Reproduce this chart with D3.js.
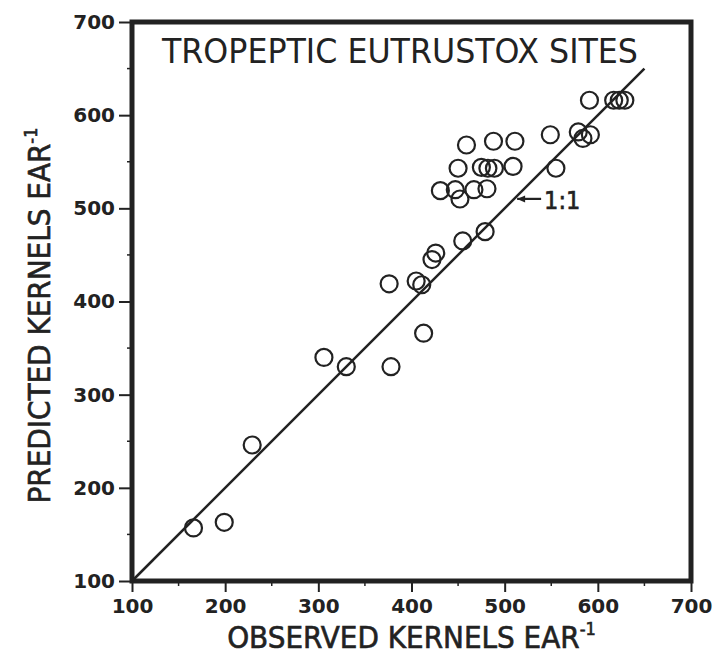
<!DOCTYPE html>
<html lang="en">
<head>
<meta charset="UTF-8">
<title>Predicted vs observed kernels</title>
<style>
  body { margin: 0; background: #fff; }
</style>
</head>
<body>
<svg id="chart" width="718" height="657"></svg>
<script src="https://d3js.org/d3.v7.min.js"></script>
<script>
// kernels per ear, one entry per site
const observed  = [166, 199, 229, 306, 330, 378, 413, 376, 405, 411,
                   422, 426, 455, 479, 431, 447, 452, 467, 481, 450,
                   475, 482, 489, 509, 459, 488, 511, 549, 555, 579,
                   584, 592, 591, 617, 623, 629];
const predicted = [157, 163, 246, 340, 330, 330, 366, 419, 422, 418,
                   445, 452, 465, 475, 519, 520, 510, 520, 521, 543,
                   544, 543, 543, 545, 568, 572, 572, 579, 543, 582,
                   575, 579, 616, 616, 616, 616];
const majorTicks = [100, 200, 300, 400, 500, 600, 700];
const minorTicks = [150, 250, 350, 450, 550, 650];
const oneToOne = [100, 650];
const labelAt = 508;

const svg = d3.select("#chart");
const plotLeft = 132, plotRight = 691, plotTop = 22, plotBottom = 581;
const ink = "#222";

const x = d3.scaleLinear().domain([100, 700]).range([plotLeft, plotRight]);
const y = d3.scaleLinear().domain([100, 700]).range([plotBottom, plotTop]);

// axes (ticks + labels)
const xAxis = svg.append("g")
    .attr("transform", `translate(0,${plotBottom})`)
    .call(d3.axisBottom(x).tickValues(majorTicks).tickSize(11).tickPadding(7));
const yAxis = svg.append("g")
    .attr("transform", `translate(${plotLeft},0)`)
    .call(d3.axisLeft(y).tickValues(majorTicks).tickSize(13).tickPadding(4));

[xAxis, yAxis].forEach(g => {
  g.select(".domain").remove();
  g.selectAll("line").attr("stroke", ink).attr("stroke-width", 2);
  g.selectAll("text")
    .attr("fill", ink)
    .style("font-family", "'DejaVu Sans', sans-serif")
    .style("font-weight", "bold")
    .style("font-size", "20px");
});

// minor ticks
svg.append("g").selectAll("line").data(minorTicks).join("line")
    .attr("x1", d => x(d)).attr("x2", d => x(d))
    .attr("y1", plotBottom).attr("y2", plotBottom + 5)
    .attr("stroke", ink).attr("stroke-width", 1.5);
svg.append("g").selectAll("line").data(minorTicks).join("line")
    .attr("y1", d => y(d)).attr("y2", d => y(d))
    .attr("x1", plotLeft).attr("x2", plotLeft - 5)
    .attr("stroke", ink).attr("stroke-width", 1.5);

// frame
svg.append("rect")
    .attr("x", plotLeft).attr("y", plotTop)
    .attr("width", plotRight - plotLeft).attr("height", plotBottom - plotTop)
    .attr("fill", "none").attr("stroke", ink).attr("stroke-width", 5);

// 1:1 line
svg.append("line")
    .attr("x1", x(oneToOne[0])).attr("y1", y(oneToOne[0]))
    .attr("x2", x(oneToOne[1])).attr("y2", y(oneToOne[1]))
    .attr("stroke", ink).attr("stroke-width", 2.5);

// points
svg.append("g").selectAll("circle")
    .data(observed.map((o, i) => [o, predicted[i]]))
    .join("circle")
    .attr("cx", d => x(d[0]))
    .attr("cy", d => y(d[1]))
    .attr("r", 8.5)
    .attr("fill", "none")
    .attr("stroke", ink)
    .attr("stroke-width", 2.2);

// 1:1 label with arrow
const ax = x(labelAt) + 5, ay = y(labelAt) - 2;
svg.append("line")
    .attr("x1", ax).attr("y1", ay).attr("x2", ax + 24).attr("y2", ay)
    .attr("stroke", ink).attr("stroke-width", 2.2);
svg.append("path")
    .attr("d", `M${ax},${ay} l8,-3.5 l0,7 z`)
    .attr("fill", ink);
svg.append("text")
    .attr("x", ax + 27).attr("y", ay + 10)
    .attr("fill", ink)
    .attr("stroke", ink).attr("stroke-width", 0.6)
    .style("font-family", "'DejaVu Sans Condensed', sans-serif")
    .style("font-size", "25px")
    .text("1:1");

// title inside the frame
svg.append("text")
    .attr("x", 162).attr("y", 63)
    .attr("textLength", 476).attr("lengthAdjust", "spacingAndGlyphs")
    .attr("fill", ink)
    .style("font-family", "'DejaVu Sans Condensed', sans-serif")
    .style("font-size", "33px")
    .text("TROPEPTIC EUTRUSTOX SITES");

// axis titles
const xt = svg.append("text")
    .attr("x", (plotLeft + plotRight) / 2).attr("y", 648)
    .attr("text-anchor", "middle")
    .attr("fill", ink)
    .attr("stroke", ink).attr("stroke-width", 0.6)
    .style("font-family", "'DejaVu Sans Condensed', sans-serif")
    .style("font-size", "31px");
xt.append("tspan").text("OBSERVED KERNELS EAR");
xt.append("tspan").attr("dy", -13).style("font-size", "18px").text("-1");

const yt = svg.append("text")
    .attr("transform", `translate(50,${(plotTop + plotBottom) / 2 + 14}) rotate(-90)`)
    .attr("text-anchor", "middle")
    .attr("fill", ink)
    .attr("stroke", ink).attr("stroke-width", 0.6)
    .style("font-family", "'DejaVu Sans Condensed', sans-serif")
    .style("font-size", "31px");
yt.append("tspan").text("PREDICTED KERNELS EAR");
yt.append("tspan").attr("dy", -13).style("font-size", "18px").text("-1");
</script>
</body>
</html>
